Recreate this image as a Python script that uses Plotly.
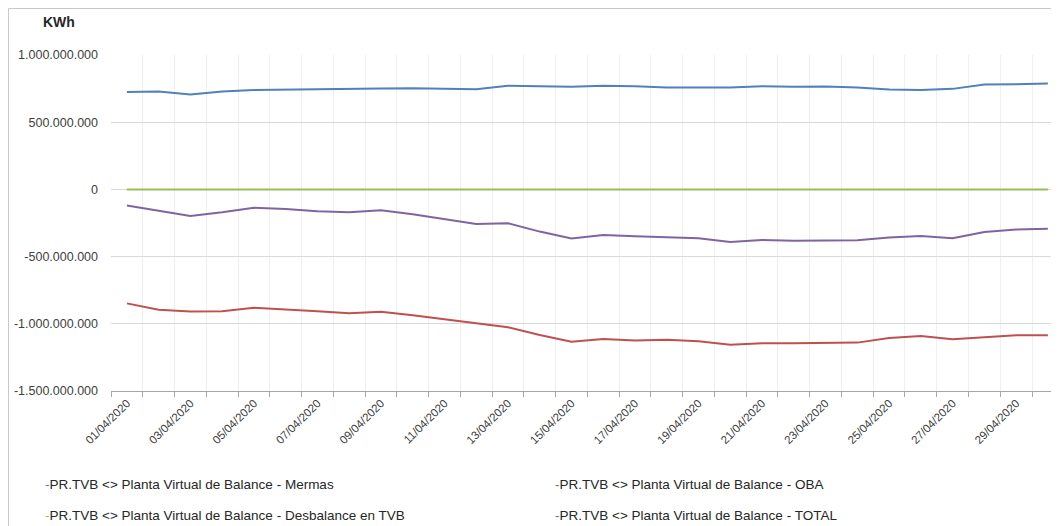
import plotly.graph_objects as go

# ---- data ----
dates = [f"{d:02d}/04/2020" for d in range(1, 31)]
mermas = [724e6, 728e6, 706e6, 728e6, 739e6, 743e6, 743e6, 746e6, 751e6, 753e6,
          751e6, 746e6, 771e6, 766e6, 763e6, 771e6, 768e6, 758e6, 758e6, 758e6,
          768e6, 763e6, 766e6, 758e6, 743e6, 739e6, 748e6, 781e6, 783e6, 788e6]
oba = [-848e6, -896e6, -908e6, -906e6, -881e6, -891e6, -906e6, -921e6, -911e6, -936e6,
       -966e6, -998e6, -1025e6, -1083e6, -1133e6, -1113e6, -1125e6, -1118e6, -1130e6, -1155e6,
       -1145e6, -1145e6, -1145e6, -1140e6, -1105e6, -1090e6, -1115e6, -1100e6, -1085e6, -1085e6]
desbalance = [0] * 30
total = [-120e6, -160e6, -197e6, -170e6, -137e6, -145e6, -162e6, -170e6, -155e6, -185e6,
         -220e6, -257e6, -252e6, -314e6, -365e6, -339e6, -349e6, -354e6, -364e6, -392e6,
         -377e6, -382e6, -382e6, -379e6, -357e6, -347e6, -364e6, -317e6, -299e6, -292e6]
x_labels = [d if i % 2 == 0 else "" for i, d in enumerate(dates)]
y_ticks = [-1.5e9, -1e9, -5e8, 0, 5e8, 1e9]
y_labels = ["-1.500.000.000", "-1.000.000.000", "-500.000.000", "0", "500.000.000", "1.000.000.000"]

series = [
    ("PR.TVB <> Planta Virtual de Balance - Mermas", mermas, "#4F81BD"),
    ("PR.TVB <> Planta Virtual de Balance - OBA", oba, "#C0504D"),
    ("PR.TVB <> Planta Virtual de Balance - Desbalance en TVB", desbalance, "#9BBB59"),
    ("PR.TVB <> Planta Virtual de Balance - TOTAL", total, "#8064A2"),
]

FONT = "Liberation Sans, Arial, sans-serif"

# the page places the figure 8px from the top-left corner of the window
OFF = 8
W, H = 1059 - OFF, 526 - OFF
L, T, B = 111 - OFF, 55 - OFF, 391 - OFF
PW, PH = W - L, B - T


def px_x(x):
    return (x - OFF - L) / PW


def px_y(y):
    return (B - (y - OFF)) / PH


fig = go.Figure()
for name, vals, col in series:
    fig.add_trace(go.Scatter(x=dates, y=vals, name=name, mode="lines",
                             line=dict(color=col, width=2), showlegend=False))

fig.update_layout(
    width=W, height=H,
    margin=dict(l=L, r=0, t=T, b=H - B),
    paper_bgcolor="white", plot_bgcolor="white",
    font=dict(family=FONT, color="#595959"),
)
fig.update_xaxes(
    type="category", range=[-0.5, 29.35],
    tickmode="array", tickvals=dates, ticktext=x_labels,
    tickson="boundaries", tickangle=-45,
    tickfont=dict(size=11.5, color="#404040"),
    ticks="outside", ticklen=5, tickcolor="#a6a6a6",
    showline=True, linecolor="#a6a6a6", linewidth=1,
    showgrid=True, gridcolor="#efefef", gridwidth=1,
)
fig.update_yaxes(
    range=[-1.5e9, 1e9], tickmode="array", tickvals=y_ticks, ticktext=y_labels,
    tickfont=dict(size=12.5, color="#404040"),
    showgrid=True, gridcolor="#d9d9d9", gridwidth=1,
    zeroline=False, showline=False, ticks="", ticklabelstandoff=12,
)

# outer chart border (left and top edges visible)
fig.add_shape(type="rect", xref="paper", yref="paper",
              x0=px_x(8.5), x1=1.2, y0=-0.6, y1=px_y(8.5),
              line=dict(color="#c8c8c8", width=1), fillcolor="rgba(0,0,0,0)", layer="below")

fig.add_annotation(text="<b>KWh</b>", xref="paper", yref="paper",
                   x=px_x(59), y=px_y(22), showarrow=False,
                   font=dict(size=14, color="#262626"), xanchor="center", yanchor="middle")

# legend as text entries
leg_pos = [(43, 485), (553, 485), (43, 515), (553, 515)]
for (name, vals, col), (px, py) in zip(series, leg_pos):
    txt = f"<span style='color:{col}'>-</span>" + name.replace("<", "&lt;").replace(">", "&gt;")
    fig.add_annotation(text=txt, xref="paper", yref="paper",
                       x=px_x(px), y=px_y(py), showarrow=False,
                       xanchor="left", yanchor="middle",
                       font=dict(size=13.5, color="#262626", family=FONT))

fig.write_html("out.html")
